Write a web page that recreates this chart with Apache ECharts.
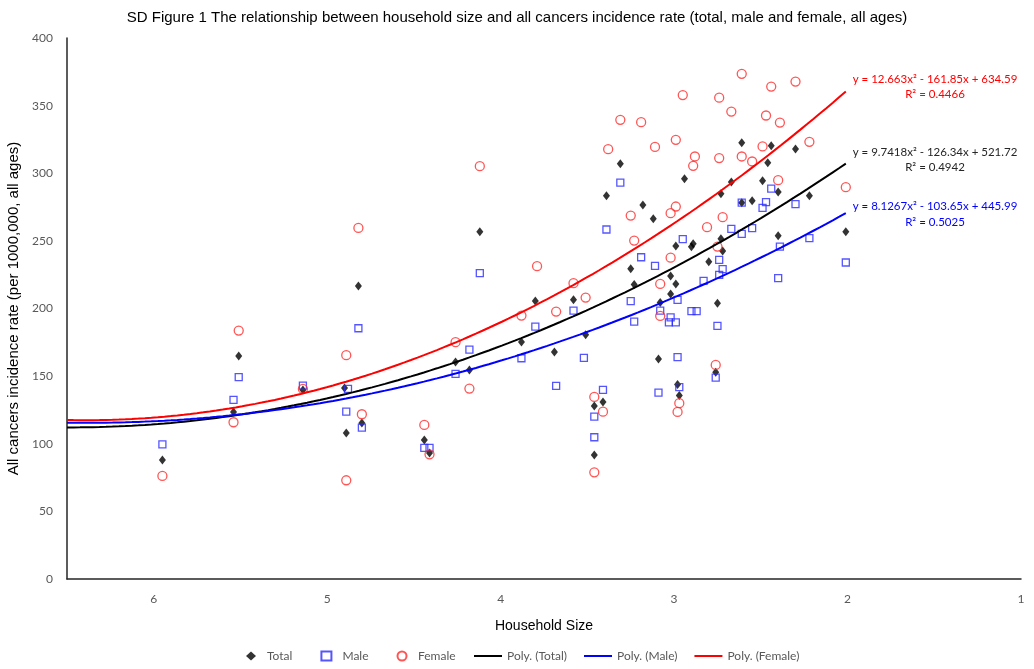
<!DOCTYPE html>
<html>
<head>
<meta charset="utf-8">
<script src="https://cdn.jsdelivr.net/npm/echarts@6/dist/echarts.min.js"></script>
<style>
  html, body { margin: 0; padding: 0; background: #fff; }
  #chart { width: 1034px; height: 669px; }
</style>
</head>
<body>
<div id="chart"></div>
<script>
const titleText = 'SD Figure 1 The relationship between household size and all cancers incidence rate (total, male and female, all ages)';
const xAxisName = 'Household Size';
const yAxisName = 'All cancers incidence rate (per 1000,000, all ages)';
const seriesNames = ['Total', 'Male', 'Female'];
const trendNames = ['Poly. (Total)', 'Poly. (Male)', 'Poly. (Female)'];

// [household size, incidence rate]
const totalPoints = [
  [5.95, 88.0], [5.51, 164.9], [5.54, 123.5], [5.14, 139.8], [4.90, 141.3], [4.89, 108.0],
  [4.82, 216.7], [4.80, 115.4], [4.44, 102.8], [4.41, 93.2], [4.26, 160.5], [4.18, 154.6],
  [4.12, 256.7], [3.88, 175.3], [3.80, 205.6], [3.69, 167.9], [3.58, 206.4], [3.51, 180.5],
  [3.46, 128.0], [3.46, 91.7], [3.41, 130.9], [3.39, 283.3], [3.31, 307.0], [3.25, 229.3],
  [3.23, 217.8], [3.18, 276.6], [3.12, 266.3], [2.94, 295.9], [2.99, 246.3], [2.89, 247.8],
  [2.90, 245.6], [2.61, 322.5], [2.44, 320.3], [2.30, 318.0], [2.46, 307.7], [2.67, 293.6],
  [2.49, 294.4], [2.73, 284.8], [2.40, 286.2], [2.61, 278.1], [2.55, 279.6], [2.22, 283.3],
  [2.40, 253.7], [2.01, 256.7], [2.73, 251.5], [2.72, 242.6], [2.80, 234.5], [3.02, 224.1],
  [2.99, 218.2], [3.02, 210.8], [3.08, 204.5], [2.75, 203.9], [3.09, 162.7], [2.76, 152.9],
  [2.98, 143.9], [2.97, 135.6]
];

const malePoints = [
  [5.95, 99.6], [5.51, 149.2], [5.54, 132.4], [5.14, 143.0], [4.88, 140.5], [4.89, 123.7],
  [4.82, 185.4], [4.80, 111.9], [4.44, 96.9], [4.41, 96.9], [4.26, 151.6], [4.18, 169.6],
  [4.12, 226.1], [3.88, 163.2], [3.80, 186.6], [3.68, 142.8], [3.58, 198.4], [3.52, 163.5],
  [3.46, 120.0], [3.46, 104.8], [3.41, 139.8], [3.39, 258.4], [3.31, 293.1], [3.25, 205.4],
  [3.23, 190.3], [3.19, 237.9], [3.11, 231.5], [3.08, 198.4], [3.09, 137.8], [3.02, 193.5],
  [3.03, 189.8], [2.99, 189.8], [2.98, 206.4], [2.98, 164.0], [2.97, 141.8], [2.95, 251.3],
  [2.90, 198.0], [2.87, 198.0], [2.83, 220.4], [2.76, 148.9], [2.75, 187.1], [2.74, 235.9],
  [2.72, 229.1], [2.74, 224.9], [2.67, 258.9], [2.61, 278.3], [2.61, 255.2], [2.55, 259.4],
  [2.49, 274.4], [2.47, 278.6], [2.44, 288.7], [2.40, 222.4], [2.39, 245.8], [2.30, 277.1],
  [2.22, 252.0], [2.01, 234.0]
];

const femalePoints = [
  [5.95, 76.2], [5.51, 183.7], [5.54, 115.9], [5.14, 140.5], [4.89, 165.5], [4.89, 73.0],
  [4.82, 259.6], [4.80, 121.8], [4.44, 113.9], [4.41, 92.2], [4.26, 175.1], [4.18, 140.8],
  [4.12, 305.2], [3.88, 194.8], [3.79, 231.3], [3.68, 197.7], [3.58, 218.7], [3.51, 208.1],
  [3.46, 134.6], [3.46, 78.9], [3.41, 123.7], [3.38, 317.8], [3.31, 339.5], [3.19, 337.8],
  [2.95, 357.8], [2.74, 355.9], [3.11, 319.5], [2.99, 324.7], [2.88, 312.4], [2.89, 305.5],
  [2.74, 311.2], [3.25, 268.7], [2.99, 275.4], [3.02, 270.5], [3.23, 250.2], [2.81, 260.1],
  [3.02, 237.6], [2.75, 245.8], [2.61, 373.5], [2.44, 364.1], [2.30, 367.8], [2.67, 345.6],
  [2.47, 342.7], [2.39, 337.5], [2.22, 323.2], [2.49, 319.8], [2.61, 312.4], [2.55, 308.7],
  [2.40, 294.9], [2.01, 289.7], [2.72, 267.5], [3.08, 218.2], [3.08, 194.5], [2.76, 158.3],
  [2.97, 130.0], [2.98, 123.5]
];

// second-order polynomial trends: y = a·x² + b·x + c
const totalFit = [9.7418, -126.34, 521.72];
const maleFit = [8.1267, -103.65, 445.99];
const femaleFit = [12.663, -161.85, 634.59];
const totalR2 = '0.4942';
const maleR2 = '0.5025';
const femaleR2 = '0.4466';

const xMin = 1, xMax = 6.5;

const colTotal = '#000000';
const colMale = '#2b2bff';
const colFemale = '#ff2b2b';
const colMaleLine = '#0000ff';
const colFemaleLine = '#ff0000';

const smallestSize = Math.min(...totalPoints.concat(malePoints, femalePoints).map(p => p[0]));

function trendCurve(fit) {
  const pts = [];
  const n = 120;
  for (let i = 0; i <= n; i++) {
    const x = xMax - (xMax - smallestSize) * i / n;
    pts.push([x, fit[0] * x * x + fit[1] * x + fit[2]]);
  }
  return pts;
}

function equationText(fit) {
  const sign = v => (v < 0 ? ' - ' : ' + ') + Math.abs(v);
  return 'y = ' + fit[0] + 'x\u00B2' + sign(fit[1]) + 'x' + sign(fit[2]);
}

const chart = echarts.init(document.getElementById('chart'), null, { renderer: 'canvas' });

const labelFont = 'Lato, "Noto Sans", sans-serif';
const arialFont = '"Liberation Sans", Arial, sans-serif';
const lineIcon = 'path://M0 0H28V2H0Z';

function eqLabel(x, y, text, color) {
  return {
    type: 'text', x: x, y: y, silent: true,
    style: { text: text, fill: color, font: '11.5px ' + labelFont, textAlign: 'center', textVerticalAlign: 'middle' }
  };
}

chart.setOption({
  animation: false,
  backgroundColor: '#ffffff',
  title: {
    text: titleText,
    left: 'center',
    top: 5,
    textStyle: { fontFamily: arialFont, fontSize: 15, fontWeight: 'normal', color: '#000' }
  },
  grid: { left: 67, right: 13, top: 38, bottom: 90, containLabel: false, outerBoundsMode: 'none' },
  xAxis: {
    type: 'value',
    min: xMin,
    max: xMax,
    interval: 1,
    inverse: true,
    name: xAxisName,
    nameLocation: 'middle',
    nameGap: 40,
    nameTextStyle: { fontFamily: arialFont, fontSize: 14, color: '#000' },
    axisLine: { show: true, onZero: false, lineStyle: { color: '#262626', width: 1.5 } },
    axisTick: { show: false },
    splitLine: { show: false },
    axisLabel: {
      color: '#595959', fontFamily: labelFont, fontSize: 12, margin: 14,
      formatter: v => (Number.isInteger(v) ? String(v) : '')
    }
  },
  yAxis: {
    type: 'value',
    min: 0,
    max: 400,
    interval: 50,
    name: yAxisName,
    nameLocation: 'middle',
    nameGap: 46,
    nameRotate: 90,
    nameTextStyle: { fontFamily: arialFont, fontSize: 15, color: '#000' },
    axisLine: { show: true, lineStyle: { color: '#262626', width: 1.5 } },
    axisTick: { show: false },
    splitLine: { show: false },
    axisLabel: { color: '#595959', fontFamily: labelFont, fontSize: 12, margin: 14 }
  },
  legend: [
    {
      data: [
        { name: seriesNames[0], icon: 'diamond' },
        { name: seriesNames[1], icon: 'rect' },
        { name: seriesNames[2], icon: 'circle' }
      ],
      left: 241, top: 645,
      itemWidth: 10, itemHeight: 9, itemGap: 28,
      symbolKeepAspect: true,
      textStyle: { color: '#595959', fontFamily: labelFont, fontSize: 12, padding: [0, 0, 0, 6] }
    },
    {
      data: trendNames.map(n => ({ name: n, icon: lineIcon })),
      left: 469, top: 645,
      itemWidth: 28, itemHeight: 9, itemGap: 17,
      symbolKeepAspect: true,
      textStyle: { color: '#595959', fontFamily: labelFont, fontSize: 12 }
    }
  ],
  series: [
    {
      name: seriesNames[0], type: 'scatter', data: totalPoints,
      symbol: 'diamond', symbolSize: [7, 9],
      itemStyle: { color: colTotal }
    },
    {
      name: seriesNames[1], type: 'scatter', data: malePoints,
      symbol: 'rect', symbolSize: 7,
      itemStyle: { color: 'rgba(255,255,255,0)', borderColor: colMale, borderWidth: 1.3 }
    },
    {
      name: seriesNames[2], type: 'scatter', data: femalePoints,
      symbol: 'circle', symbolSize: 9,
      itemStyle: { color: 'rgba(255,255,255,0)', borderColor: colFemale, borderWidth: 1.3 }
    },
    {
      name: trendNames[0], type: 'line', data: trendCurve(totalFit),
      symbol: 'none', showSymbol: false, silent: true,
      itemStyle: { color: colTotal }, lineStyle: { color: colTotal, width: 2 }
    },
    {
      name: trendNames[1], type: 'line', data: trendCurve(maleFit),
      symbol: 'none', showSymbol: false, silent: true,
      itemStyle: { color: colMaleLine }, lineStyle: { color: colMaleLine, width: 2 }
    },
    {
      name: trendNames[2], type: 'line', data: trendCurve(femaleFit),
      symbol: 'none', showSymbol: false, silent: true,
      itemStyle: { color: colFemaleLine }, lineStyle: { color: colFemaleLine, width: 2 }
    }
  ],
  graphic: [
    eqLabel(935, 79, equationText(femaleFit), colFemaleLine),
    eqLabel(935, 94, 'R\u00B2 = ' + femaleR2, colFemaleLine),
    eqLabel(935, 152, equationText(totalFit), '#262626'),
    eqLabel(935, 167, 'R\u00B2 = ' + totalR2, '#262626'),
    eqLabel(935, 206, equationText(maleFit), colMaleLine),
    eqLabel(935, 222, 'R\u00B2 = ' + maleR2, colMaleLine)
  ]
});
</script>
</body>
</html>
